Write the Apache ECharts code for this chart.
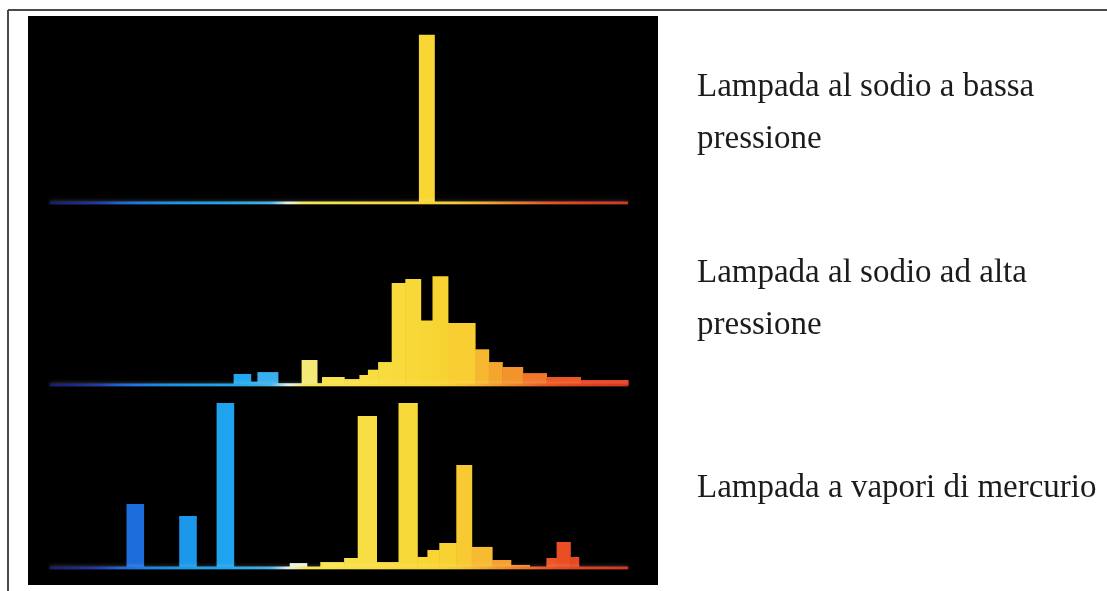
<!DOCTYPE html>
<html>
<head>
<meta charset="utf-8">
<title>Spettri lampade</title>
<script src="https://cdn.jsdelivr.net/npm/echarts@6/dist/echarts.min.js"></script>
<style>
  html, body { margin: 0; padding: 0; background: #fff; }
  #chart { width: 1107px; height: 591px; }
</style>
</head>
<body>
<div id="chart"></div>
<script>
// wavelength range of the spectra (nm)
var waveMin = 380;
var waveMax = 720;

// each band: [from nm, to nm, relative intensity 0-100]
var sodioBassa = [
  [597, 606, 99]
];

var sodioAlta = [
  [488, 498, 6.5], [498, 502, 2], [502, 514, 7.6], [514, 528, 1],
  [528, 537, 14.7], [537, 540, 1], [540, 553, 4.7], [553, 562, 3.5],
  [562, 567, 5.9], [567, 573, 9], [573, 581, 13.5], [581, 589, 60],
  [589, 598, 62.4], [598, 605, 38], [605, 614, 64], [614, 630, 36.5],
  [630, 638, 21], [638, 646, 13.5], [646, 658, 10.6], [658, 672, 7],
  [672, 692, 4.7], [692, 720, 2.9]
];

var mercurio = [
  [425, 435, 37.6], [456, 466, 30.6], [478, 488, 97], [521, 531, 2.9],
  [539, 553, 3.5], [553, 561, 5.9], [561, 572, 89.4], [572, 585, 3.5],
  [585, 596, 97], [596, 602, 6.5], [602, 609, 10.6], [609, 619, 14.7],
  [619, 628, 60.6], [628, 640, 12.4], [640, 651, 4.7], [651, 662, 1.8],
  [672, 678, 5.9], [678, 686, 15.3], [686, 691, 6.5]
];

var labels = [
  ['Lampada al sodio a bassa', 'pressione'],
  ['Lampada al sodio ad alta', 'pressione'],
  ['Lampada a vapori di mercurio']
];

// spectrum colours, one every 10 nm from waveMin to waveMax
var spectrumColors = [
  '#161e6e', '#1a2680', '#1e3094', '#2040b0', '#1f62d4', '#1c78e4',
  '#1a86e6', '#1a92e8', '#1a9aea', '#1ca0ec', '#1ea4ee', '#26a8ee',
  '#34acec', '#48b4ea', '#e4f4ee', '#f6e658', '#f8e24c', '#f8e048',
  '#f8de44', '#f8dc40', '#f8da3c', '#f8d838', '#f8d634', '#f8d232',
  '#f7c832', '#f6b830', '#f4a02c', '#f28a2a', '#ef722a', '#ec5a24',
  '#e84c22', '#e64420', '#e03e22', '#dc3a22', '#d83622'
];

var spectra = [sodioBassa, sodioAlta, mercurio];
var baselines = [203, 385, 568];
var plotH = 170;

var myChart = echarts.init(document.getElementById('chart'));

function renderBand(params, api) {
  var top = api.coord([api.value(0), api.value(2)]);
  var bottom = api.coord([api.value(1), 0]);
  return {
    type: 'rect',
    // +0.6 so neighbouring bands don't show a hairline gap
    shape: { x: top[0], y: top[1], width: bottom[0] - top[0] + 0.6, height: bottom[1] - top[1] },
    style: { fill: api.visual('color') }
  };
}

var grids = [], xAxes = [], yAxes = [], series = [];
spectra.forEach(function (data, i) {
  grids.push({ left: 50, right: 1107 - 628, top: baselines[i] - plotH, height: plotH });
  xAxes.push({ type: 'value', gridIndex: i, min: waveMin, max: waveMax, show: false });
  yAxes.push({ type: 'value', gridIndex: i, min: 0, max: 100, show: false });
  // thin glowing baseline
  series.push({
    type: 'line', xAxisIndex: i, yAxisIndex: i, symbol: 'none', silent: true,
    data: [[waveMin, 0], [waveMax, 0]],
    lineStyle: { width: 3, shadowBlur: 4, shadowColor: 'rgba(255,255,255,0.3)' },
    z: 3
  });
  series.push({
    type: 'custom', xAxisIndex: i, yAxisIndex: i, silent: true,
    renderItem: renderBand,
    encode: { x: [0, 1], y: 2 },
    data: data,
    z: 2
  });
});

var graphics = [
  { type: 'rect', shape: { x: 28, y: 16, width: 630, height: 569 }, style: { fill: '#000' }, z: -10 },
  { type: 'line', shape: { x1: 8, y1: 10, x2: 1107, y2: 10 }, style: { stroke: '#4a4a4a', lineWidth: 2 } },
  { type: 'line', shape: { x1: 8, y1: 10, x2: 8, y2: 591 }, style: { stroke: '#4a4a4a', lineWidth: 2 } }
];
var labelY = [[90, 142], [276, 328], [491]];
labels.forEach(function (lines, i) {
  lines.forEach(function (txt, j) {
    graphics.push({
      type: 'text', left: 697, top: labelY[i][j] - 19,
      style: { text: txt, font: '33px "Liberation Serif"', fill: '#1c1c1c' }
    });
  });
});

var options = {
  backgroundColor: '#fff',
  animation: false,
  grid: grids,
  xAxis: xAxes,
  yAxis: yAxes,
  visualMap: {
    type: 'continuous', show: false, dimension: 0,
    min: waveMin, max: waveMax,
    inRange: { color: spectrumColors }
  },
  graphic: graphics,
  series: series
};

myChart.setOption(options);
</script>
</body>
</html>
